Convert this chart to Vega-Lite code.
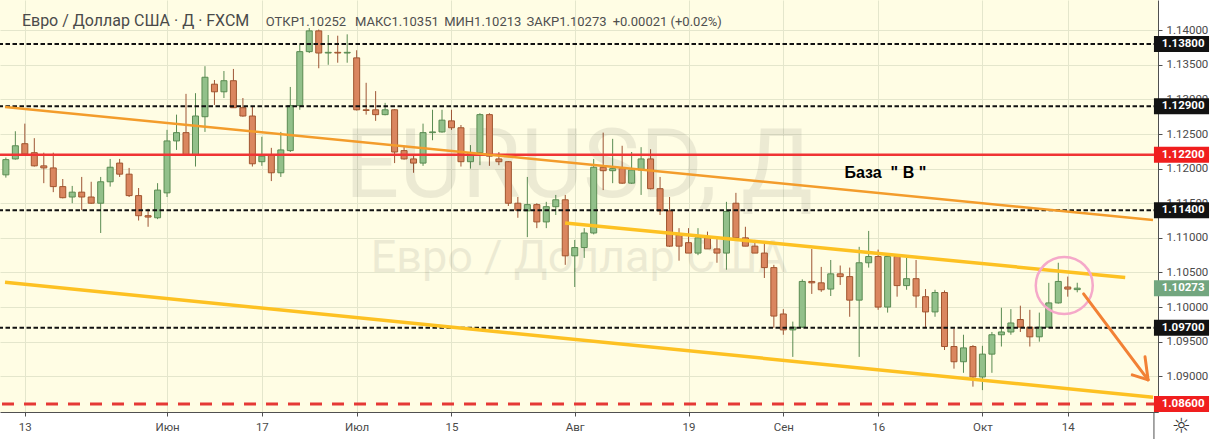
{
  "$schema": "https://vega.github.io/schema/vega-lite/v6.json",
  "width": 1158,
  "height": 412,
  "autosize": {"type": "none"},
  "padding": {"left": 0, "top": 0, "right": 56, "bottom": 27},
  "background": "#ffffff",
  "config": {
    "view": {"fill": "#fffde4", "stroke": null},
    "font": "Roboto",
    "axis": {"labelFont": "Roboto", "labelFontSize": 11.5, "labelColor": "#4a4a4a", "domainColor": "#505050", "tickColor": "#505050", "gridColor": "#e4e6cc", "gridWidth": 1}
  },
  "datasets": {
    "candles": [
      {"d":"2019-05-09","i":-2,"o":1.1191,"h":1.1216,"l":1.1187,"c":1.1213},
      {"d":"2019-05-10","i":-1,"o":1.1214,"h":1.1254,"l":1.1213,"c":1.1233},
      {"d":"2019-05-13","i":0,"o":1.1236,"h":1.1265,"l":1.1220,"c":1.1221},
      {"d":"2019-05-14","i":1,"o":1.1223,"h":1.1244,"l":1.1203,"c":1.1204},
      {"d":"2019-05-15","i":2,"o":1.1204,"h":1.1223,"l":1.1179,"c":1.1201},
      {"d":"2019-05-16","i":3,"o":1.1201,"h":1.1223,"l":1.1166,"c":1.1174},
      {"d":"2019-05-17","i":4,"o":1.1174,"h":1.1185,"l":1.1157,"c":1.1158},
      {"d":"2019-05-20","i":5,"o":1.1159,"h":1.1175,"l":1.1150,"c":1.1166},
      {"d":"2019-05-21","i":6,"o":1.1166,"h":1.1188,"l":1.1140,"c":1.1159},
      {"d":"2019-05-22","i":7,"o":1.1159,"h":1.1181,"l":1.1149,"c":1.1150},
      {"d":"2019-05-23","i":8,"o":1.1150,"h":1.1188,"l":1.1107,"c":1.1181},
      {"d":"2019-05-24","i":9,"o":1.1181,"h":1.1214,"l":1.1174,"c":1.1202},
      {"d":"2019-05-27","i":10,"o":1.1208,"h":1.1214,"l":1.1188,"c":1.1192},
      {"d":"2019-05-28","i":11,"o":1.1192,"h":1.1201,"l":1.1159,"c":1.1161},
      {"d":"2019-05-29","i":12,"o":1.1161,"h":1.1172,"l":1.1125,"c":1.1132},
      {"d":"2019-05-30","i":13,"o":1.1132,"h":1.1142,"l":1.1116,"c":1.1130},
      {"d":"2019-05-31","i":14,"o":1.1129,"h":1.1179,"l":1.1127,"c":1.1169},
      {"d":"2019-06-03","i":15,"o":1.1165,"h":1.1256,"l":1.1159,"c":1.1240},
      {"d":"2019-06-04","i":16,"o":1.1240,"h":1.1278,"l":1.1227,"c":1.1252},
      {"d":"2019-06-05","i":17,"o":1.1252,"h":1.1308,"l":1.1220,"c":1.1220},
      {"d":"2019-06-06","i":18,"o":1.1220,"h":1.1309,"l":1.1203,"c":1.1276},
      {"d":"2019-06-07","i":19,"o":1.1275,"h":1.1348,"l":1.1253,"c":1.1332},
      {"d":"2019-06-10","i":20,"o":1.1322,"h":1.1328,"l":1.1292,"c":1.1311},
      {"d":"2019-06-11","i":21,"o":1.1311,"h":1.1341,"l":1.1302,"c":1.1327},
      {"d":"2019-06-12","i":22,"o":1.1327,"h":1.1344,"l":1.1288,"c":1.1288},
      {"d":"2019-06-13","i":23,"o":1.1288,"h":1.1302,"l":1.1275,"c":1.1276},
      {"d":"2019-06-14","i":24,"o":1.1276,"h":1.1289,"l":1.1203,"c":1.1207},
      {"d":"2019-06-17","i":25,"o":1.1210,"h":1.1246,"l":1.1204,"c":1.1218},
      {"d":"2019-06-18","i":26,"o":1.1220,"h":1.1230,"l":1.1182,"c":1.1194},
      {"d":"2019-06-19","i":27,"o":1.1194,"h":1.1253,"l":1.1188,"c":1.1227},
      {"d":"2019-06-20","i":28,"o":1.1226,"h":1.1318,"l":1.1224,"c":1.1291},
      {"d":"2019-06-21","i":29,"o":1.1291,"h":1.1379,"l":1.1285,"c":1.1369},
      {"d":"2019-06-24","i":30,"o":1.1369,"h":1.1403,"l":1.1367,"c":1.1399},
      {"d":"2019-06-25","i":31,"o":1.1399,"h":1.1401,"l":1.1345,"c":1.1367},
      {"d":"2019-06-26","i":32,"o":1.1367,"h":1.1393,"l":1.1350,"c":1.1368},
      {"d":"2019-06-27","i":33,"o":1.1368,"h":1.1392,"l":1.1353,"c":1.1367},
      {"d":"2019-06-28","i":34,"o":1.1367,"h":1.1394,"l":1.1353,"c":1.1368},
      {"d":"2019-07-01","i":35,"o":1.1360,"h":1.1371,"l":1.1284,"c":1.1285},
      {"d":"2019-07-02","i":36,"o":1.1285,"h":1.1324,"l":1.1278,"c":1.1284},
      {"d":"2019-07-03","i":37,"o":1.1285,"h":1.1312,"l":1.1269,"c":1.1278},
      {"d":"2019-07-04","i":38,"o":1.1278,"h":1.1295,"l":1.1277,"c":1.1285},
      {"d":"2019-07-05","i":39,"o":1.1285,"h":1.1286,"l":1.1208,"c":1.1224},
      {"d":"2019-07-08","i":40,"o":1.1226,"h":1.1233,"l":1.1213,"c":1.1214},
      {"d":"2019-07-09","i":41,"o":1.1214,"h":1.1220,"l":1.1194,"c":1.1208},
      {"d":"2019-07-10","i":42,"o":1.1208,"h":1.1265,"l":1.1204,"c":1.1252},
      {"d":"2019-07-11","i":43,"o":1.1252,"h":1.1285,"l":1.1241,"c":1.1253},
      {"d":"2019-07-12","i":44,"o":1.1253,"h":1.1285,"l":1.1252,"c":1.1270},
      {"d":"2019-07-15","i":45,"o":1.1269,"h":1.1285,"l":1.1256,"c":1.1259},
      {"d":"2019-07-16","i":46,"o":1.1259,"h":1.1263,"l":1.1203,"c":1.1210},
      {"d":"2019-07-17","i":47,"o":1.1210,"h":1.1234,"l":1.1200,"c":1.1223},
      {"d":"2019-07-18","i":48,"o":1.1223,"h":1.1280,"l":1.1205,"c":1.1278},
      {"d":"2019-07-19","i":49,"o":1.1278,"h":1.1280,"l":1.1204,"c":1.1218},
      {"d":"2019-07-22","i":50,"o":1.1214,"h":1.1224,"l":1.1205,"c":1.1210},
      {"d":"2019-07-23","i":51,"o":1.1210,"h":1.1211,"l":1.1146,"c":1.1150},
      {"d":"2019-07-24","i":52,"o":1.1150,"h":1.1159,"l":1.1129,"c":1.1140},
      {"d":"2019-07-25","i":53,"o":1.1139,"h":1.1188,"l":1.1101,"c":1.1148},
      {"d":"2019-07-26","i":54,"o":1.1148,"h":1.1150,"l":1.1114,"c":1.1123},
      {"d":"2019-07-29","i":55,"o":1.1123,"h":1.1152,"l":1.1114,"c":1.1145},
      {"d":"2019-07-30","i":56,"o":1.1145,"h":1.1162,"l":1.1133,"c":1.1155},
      {"d":"2019-07-31","i":57,"o":1.1155,"h":1.1162,"l":1.1061,"c":1.1074},
      {"d":"2019-08-01","i":58,"o":1.1074,"h":1.1097,"l":1.1029,"c":1.1086},
      {"d":"2019-08-02","i":59,"o":1.1086,"h":1.1114,"l":1.1071,"c":1.1107},
      {"d":"2019-08-05","i":60,"o":1.1107,"h":1.1214,"l":1.1105,"c":1.1202},
      {"d":"2019-08-06","i":61,"o":1.1202,"h":1.1252,"l":1.1169,"c":1.1197},
      {"d":"2019-08-07","i":62,"o":1.1197,"h":1.1243,"l":1.1179,"c":1.1200},
      {"d":"2019-08-08","i":63,"o":1.1200,"h":1.1233,"l":1.1178,"c":1.1179},
      {"d":"2019-08-09","i":64,"o":1.1179,"h":1.1224,"l":1.1178,"c":1.1198},
      {"d":"2019-08-12","i":65,"o":1.1198,"h":1.1231,"l":1.1162,"c":1.1214},
      {"d":"2019-08-13","i":66,"o":1.1214,"h":1.1228,"l":1.1170,"c":1.1171},
      {"d":"2019-08-14","i":67,"o":1.1171,"h":1.1188,"l":1.1133,"c":1.1139},
      {"d":"2019-08-15","i":68,"o":1.1139,"h":1.1159,"l":1.1087,"c":1.1088},
      {"d":"2019-08-16","i":69,"o":1.1104,"h":1.1114,"l":1.1067,"c":1.1088},
      {"d":"2019-08-19","i":70,"o":1.1093,"h":1.1114,"l":1.1078,"c":1.1078},
      {"d":"2019-08-20","i":71,"o":1.1078,"h":1.1114,"l":1.1075,"c":1.1100},
      {"d":"2019-08-21","i":72,"o":1.1100,"h":1.1109,"l":1.1084,"c":1.1084},
      {"d":"2019-08-22","i":73,"o":1.1084,"h":1.1101,"l":1.1064,"c":1.1078},
      {"d":"2019-08-23","i":74,"o":1.1078,"h":1.1152,"l":1.1054,"c":1.1138},
      {"d":"2019-08-26","i":75,"o":1.1150,"h":1.1165,"l":1.1100,"c":1.1100},
      {"d":"2019-08-27","i":76,"o":1.1100,"h":1.1116,"l":1.1088,"c":1.1088},
      {"d":"2019-08-28","i":77,"o":1.1088,"h":1.1097,"l":1.1078,"c":1.1078},
      {"d":"2019-08-29","i":78,"o":1.1078,"h":1.1093,"l":1.1042,"c":1.1057},
      {"d":"2019-08-30","i":79,"o":1.1057,"h":1.1061,"l":1.0970,"c":1.0987},
      {"d":"2019-09-02","i":80,"o":1.0990,"h":1.0997,"l":1.0960,"c":1.0967},
      {"d":"2019-09-03","i":81,"o":1.0967,"h":1.0979,"l":1.0928,"c":1.0971},
      {"d":"2019-09-04","i":82,"o":1.0971,"h":1.1040,"l":1.0970,"c":1.1037},
      {"d":"2019-09-05","i":83,"o":1.1037,"h":1.1084,"l":1.1019,"c":1.1035},
      {"d":"2019-09-06","i":84,"o":1.1035,"h":1.1058,"l":1.1022,"c":1.1025},
      {"d":"2019-09-09","i":85,"o":1.1026,"h":1.1068,"l":1.1016,"c":1.1048},
      {"d":"2019-09-10","i":86,"o":1.1048,"h":1.1060,"l":1.1032,"c":1.1044},
      {"d":"2019-09-11","i":87,"o":1.1044,"h":1.1057,"l":1.0986,"c":1.1010},
      {"d":"2019-09-12","i":88,"o":1.1010,"h":1.1087,"l":1.0928,"c":1.1064},
      {"d":"2019-09-13","i":89,"o":1.1064,"h":1.1110,"l":1.1057,"c":1.1073},
      {"d":"2019-09-16","i":90,"o":1.1073,"h":1.1083,"l":1.0996,"c":1.1000},
      {"d":"2019-09-17","i":91,"o":1.1000,"h":1.1078,"l":1.0992,"c":1.1073},
      {"d":"2019-09-18","i":92,"o":1.1073,"h":1.1074,"l":1.1015,"c":1.1031},
      {"d":"2019-09-19","i":93,"o":1.1031,"h":1.1071,"l":1.1025,"c":1.1041},
      {"d":"2019-09-20","i":94,"o":1.1041,"h":1.1068,"l":1.0999,"c":1.1016},
      {"d":"2019-09-23","i":95,"o":1.1015,"h":1.1026,"l":1.0971,"c":1.0993},
      {"d":"2019-09-24","i":96,"o":1.0993,"h":1.1025,"l":1.0986,"c":1.1021},
      {"d":"2019-09-25","i":97,"o":1.1021,"h":1.1024,"l":1.0938,"c":1.0943},
      {"d":"2019-09-26","i":98,"o":1.0943,"h":1.0969,"l":1.0911,"c":1.0921},
      {"d":"2019-09-27","i":99,"o":1.0921,"h":1.0960,"l":1.0905,"c":1.0941},
      {"d":"2019-09-30","i":100,"o":1.0943,"h":1.0945,"l":1.0885,"c":1.0899},
      {"d":"2019-10-01","i":101,"o":1.0899,"h":1.0944,"l":1.0880,"c":1.0932},
      {"d":"2019-10-02","i":102,"o":1.0932,"h":1.0964,"l":1.0905,"c":1.0960},
      {"d":"2019-10-03","i":103,"o":1.0960,"h":1.0999,"l":1.0943,"c":1.0964},
      {"d":"2019-10-04","i":104,"o":1.0964,"h":1.0997,"l":1.0960,"c":1.0977},
      {"d":"2019-10-07","i":105,"o":1.0982,"h":1.1002,"l":1.0964,"c":1.0971},
      {"d":"2019-10-08","i":106,"o":1.0971,"h":1.0996,"l":1.0943,"c":1.0957},
      {"d":"2019-10-09","i":107,"o":1.0957,"h":1.0992,"l":1.0950,"c":1.0971},
      {"d":"2019-10-10","i":108,"o":1.0971,"h":1.1035,"l":1.0970,"c":1.1006},
      {"d":"2019-10-11","i":109,"o":1.1006,"h":1.1064,"l":1.1005,"c":1.1037},
      {"d":"2019-10-14","i":110,"o":1.1029,"h":1.1044,"l":1.1015,"c":1.1026},
      {"d":"2019-10-15","i":111,"o":1.10252,"h":1.10351,"l":1.10213,"c":1.10273}
    ],
    "blackLevels": [{"p":1.138},{"p":1.129},{"p":1.114},{"p":1.097}],
    "redLevel": [{"p":1.122}],
    "targetLevel": [{"p":1.086}],
    "lastPrice": [{"p":1.10273}],
    "orangeTrend": [{"i1":-2.091,"p1":1.12891,"i2":118.99,"p2":1.11258}],
    "channel": [
      {"i1":56.98,"p1":1.11216,"i2":116.06,"p2":1.10426},
      {"i1":-2.091,"p1":1.10357,"i2":118.99,"p2":1.08696}
    ],
    "arrow": [
      {"i1":111.67,"p1":1.10191,"i2":118.47,"p2":1.08949},
      {"i1":118.47,"p1":1.08949,"i2":116.80,"p2":1.09021},
      {"i1":118.47,"p1":1.08949,"i2":118.15,"p2":1.09281}
    ],
    "circle": [{"i":109.63,"p":1.10313}],
    "note": [{"i":90.76,"p":1.11866,"t":"База \u00a0\" В \""}],
    "wm1": [{"i":58.45,"p":1.11591,"t":"EURUSD, Д"}],
    "wm2": [{"i":58.45,"p":1.10508,"t":"Евро / Доллар США"}],
    "title": [{"i":-0.31,"p":1.14061,"t":"Евро / Доллар США · Д · FXCM"}],
    "ohlc": [
      {"i":25.41,"p":1.14061,"t":"ОТКР1.10252"},
      {"i":34.82,"p":1.14061,"t":"МАКС1.10351"},
      {"i":44.23,"p":1.14061,"t":"МИН1.10213"},
      {"i":52.91,"p":1.14061,"t":"ЗАКР1.10273"},
      {"i":62.0,"p":1.14061,"t":"+0.00021 (+0.02%)"}
    ],
    "gear": [{"t":"☼"}]
  },
  "layer": [
    {
      "data": {"name": "candles"},
      "mark": {"type": "rule", "strokeWidth": 1},
      "encoding": {
        "x": {
          "field": "i", "type": "quantitative",
          "scale": {"domain": [-2.091, 118.99], "nice": false, "zero": false},
          "axis": {
            "title": null, "grid": true, "tickSize": 4, "labelPadding": 5, "labelFlush": false,
            "values": [0, 15, 25, 35, 45, 58, 70, 80, 90, 101, 110],
            "labelExpr": "datum.value == 0 ? '13' : datum.value == 15 ? 'Июн' : datum.value == 25 ? '17' : datum.value == 35 ? 'Июл' : datum.value == 45 ? '15' : datum.value == 58 ? 'Авг' : datum.value == 70 ? '19' : datum.value == 80 ? 'Сен' : datum.value == 90 ? '16' : datum.value == 101 ? 'Окт' : '14'"
          }
        },
        "y": {
          "field": "l", "type": "quantitative",
          "scale": {"domain": [1.08484, 1.14436], "nice": false, "zero": false},
          "axis": {
            "title": null, "orient": "right", "grid": true, "tickSize": 4, "labelPadding": 4, "labelAlign": "left", "format": ".5f",
            "values": [1.09, 1.095, 1.1, 1.105, 1.11, 1.115, 1.12, 1.125, 1.13, 1.135, 1.14]
          }
        },
        "y2": {"field": "h"},
        "color": {"condition": {"test": "datum.c >= datum.o", "value": "#5a8b52"}, "value": "#9e5535"}
      }
    },
    {
      "data": {"name": "wm1"},
      "mark": {"type": "text", "font": "Roboto", "fontSize": 96, "align": "center", "baseline": "alphabetic", "fill": "#000000", "opacity": 0.07},
      "encoding": {
        "x": {"field": "i", "type": "quantitative", "axis": {"title": null}},
        "y": {"field": "p", "type": "quantitative", "axis": {"title": null}},
        "text": {"field": "t"}
      }
    },
    {
      "data": {"name": "wm2"},
      "mark": {"type": "text", "font": "Roboto", "fontSize": 45, "align": "center", "baseline": "alphabetic", "fill": "#000000", "opacity": 0.07},
      "encoding": {
        "x": {"field": "i", "type": "quantitative", "axis": {"title": null}},
        "y": {"field": "p", "type": "quantitative", "axis": {"title": null}},
        "text": {"field": "t"}
      }
    },
    {
      "data": {"name": "candles"},
      "mark": {"type": "bar", "size": 6, "strokeWidth": 1},
      "encoding": {
        "x": {"field": "i", "type": "quantitative", "axis": {"title": null}},
        "y": {"field": "o", "type": "quantitative", "axis": {"title": null}},
        "y2": {"field": "c"},
        "fill": {"condition": {"test": "datum.c >= datum.o", "value": "#92c08a"}, "value": "#da865f"},
        "stroke": {"condition": {"test": "datum.c >= datum.o", "value": "#5a8b52"}, "value": "#a0552f"}
      }
    },
    {
      "data": {"name": "blackLevels"},
      "mark": {"type": "rule", "stroke": "#111111", "strokeWidth": 2, "strokeDash": [4.5, 2.5]},
      "encoding": {"y": {"field": "p", "type": "quantitative", "axis": {"title": null}}}
    },
    {
      "data": {"name": "redLevel"},
      "mark": {"type": "rule", "stroke": "#f03434", "strokeWidth": 2.5},
      "encoding": {"y": {"field": "p", "type": "quantitative", "axis": {"title": null}}}
    },
    {
      "data": {"name": "targetLevel"},
      "mark": {"type": "rule", "stroke": "#e53935", "strokeWidth": 3, "strokeDash": [12, 10]},
      "encoding": {"y": {"field": "p", "type": "quantitative", "axis": {"title": null}}}
    },
    {
      "data": {"name": "orangeTrend"},
      "mark": {"type": "rule", "stroke": "#f39c2b", "strokeWidth": 2.5},
      "encoding": {
        "x": {"field": "i1", "type": "quantitative", "axis": {"title": null}},
        "y": {"field": "p1", "type": "quantitative", "axis": {"title": null}},
        "x2": {"field": "i2"},
        "y2": {"field": "p2"}
      }
    },
    {
      "data": {"name": "channel"},
      "mark": {"type": "rule", "stroke": "#fdc122", "strokeWidth": 3.5},
      "encoding": {
        "x": {"field": "i1", "type": "quantitative", "axis": {"title": null}},
        "y": {"field": "p1", "type": "quantitative", "axis": {"title": null}},
        "x2": {"field": "i2"},
        "y2": {"field": "p2"}
      }
    },
    {
      "data": {"name": "circle"},
      "mark": {"type": "point", "shape": "circle", "size": 3249, "filled": false, "stroke": "#f5a9c9", "strokeWidth": 2.5, "opacity": 1},
      "encoding": {
        "x": {"field": "i", "type": "quantitative", "axis": {"title": null}},
        "y": {"field": "p", "type": "quantitative", "axis": {"title": null}}
      }
    },
    {
      "data": {"name": "arrow"},
      "mark": {"type": "rule", "stroke": "#f28135", "strokeWidth": 3, "strokeCap": "round"},
      "encoding": {
        "x": {"field": "i1", "type": "quantitative", "axis": {"title": null}},
        "y": {"field": "p1", "type": "quantitative", "axis": {"title": null}},
        "x2": {"field": "i2"},
        "y2": {"field": "p2"}
      }
    },
    {
      "data": {"name": "note"},
      "mark": {"type": "text", "font": "Liberation Sans", "fontSize": 16, "fontWeight": "bold", "align": "center", "baseline": "alphabetic", "fill": "#000000"},
      "encoding": {
        "x": {"field": "i", "type": "quantitative", "axis": {"title": null}},
        "y": {"field": "p", "type": "quantitative", "axis": {"title": null}},
        "text": {"field": "t"}
      }
    },
    {
      "data": {"name": "title"},
      "mark": {"type": "text", "font": "Roboto", "fontSize": 16, "align": "left", "baseline": "alphabetic", "fill": "#4a4a4a"},
      "encoding": {
        "x": {"field": "i", "type": "quantitative", "axis": {"title": null}},
        "y": {"field": "p", "type": "quantitative", "axis": {"title": null}},
        "text": {"field": "t"}
      }
    },
    {
      "data": {"name": "ohlc"},
      "mark": {"type": "text", "font": "Roboto", "fontSize": 13, "align": "left", "baseline": "alphabetic", "fill": "#4f4f4f"},
      "encoding": {
        "x": {"field": "i", "type": "quantitative", "axis": {"title": null}},
        "y": {"field": "p", "type": "quantitative", "axis": {"title": null}},
        "text": {"field": "t"}
      }
    },
    {
      "data": {"name": "blackLevels"},
      "mark": {"type": "rule", "stroke": "#121212", "strokeWidth": 16, "strokeCap": "butt"},
      "encoding": {
        "x": {"datum": 119.09, "type": "quantitative", "axis": {"title": null}},
        "x2": {"datum": 124.9},
        "y": {"field": "p", "type": "quantitative", "axis": {"title": null}}
      }
    },
    {
      "data": {"name": "redLevel"},
      "mark": {"type": "rule", "stroke": "#f01e1e", "strokeWidth": 16, "strokeCap": "butt"},
      "encoding": {
        "x": {"datum": 119.09, "type": "quantitative", "axis": {"title": null}},
        "x2": {"datum": 124.9},
        "y": {"field": "p", "type": "quantitative", "axis": {"title": null}}
      }
    },
    {
      "data": {"name": "targetLevel"},
      "mark": {"type": "rule", "stroke": "#f01e1e", "strokeWidth": 16, "strokeCap": "butt"},
      "encoding": {
        "x": {"datum": 119.09, "type": "quantitative", "axis": {"title": null}},
        "x2": {"datum": 124.9},
        "y": {"field": "p", "type": "quantitative", "axis": {"title": null}}
      }
    },
    {
      "data": {"name": "lastPrice"},
      "mark": {"type": "rule", "stroke": "#72a67f", "strokeWidth": 16, "strokeCap": "butt"},
      "encoding": {
        "x": {"datum": 119.09, "type": "quantitative", "axis": {"title": null}},
        "x2": {"datum": 124.9},
        "y": {"field": "p", "type": "quantitative", "axis": {"title": null}}
      }
    },
    {
      "data": {"values": [{"p":1.138},{"p":1.129},{"p":1.114},{"p":1.097},{"p":1.122},{"p":1.086},{"p":1.10273}]},
      "mark": {"type": "text", "font": "Roboto", "fontSize": 11.5, "fontWeight": "bold", "align": "left", "baseline": "middle", "fill": "#ffffff"},
      "encoding": {
        "x": {"datum": 119.9, "type": "quantitative", "axis": {"title": null}},
        "y": {"field": "p", "type": "quantitative", "axis": {"title": null}},
        "text": {"field": "p", "type": "quantitative", "format": ".5f"}
      }
    },
    {
      "data": {"name": "gear"},
      "mark": {"type": "text", "font": "DejaVu Sans", "fontSize": 21, "align": "center", "baseline": "middle", "fill": "#333333"},
      "encoding": {
        "x": {"datum": 121.97, "type": "quantitative", "axis": {"title": null}},
        "y": {"datum": 1.0827, "type": "quantitative", "axis": {"title": null}},
        "text": {"field": "t"}
      }
    },
    {
      "data": {"name": "gear"},
      "mark": {"type": "rule", "stroke": "#505050", "strokeWidth": 1},
      "encoding": {
        "x": {"datum": 119.09, "type": "quantitative", "axis": {"title": null}},
        "y": {"datum": 1.08484, "type": "quantitative", "axis": {"title": null}},
        "y2": {"datum": 1.0809}
      }
    }
  ]
}
